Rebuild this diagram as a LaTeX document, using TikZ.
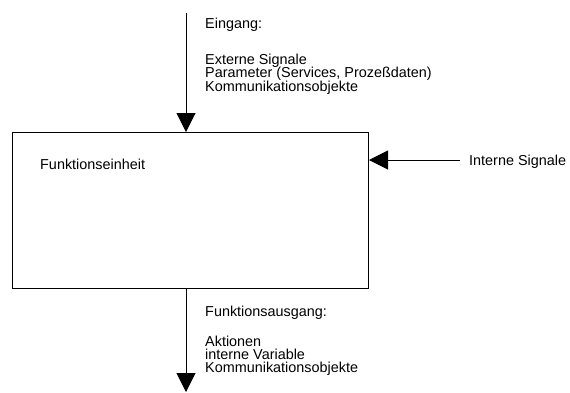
\documentclass[tikz,border=0pt]{standalone}
\usepackage{fontspec}
\setmainfont{Liberation Sans}
\usetikzlibrary{arrows.meta}
\begin{document}
\begin{tikzpicture}[x=1pt,y=-1pt,
  lbl/.style={anchor=base west,inner sep=0pt,font=\fontsize{14.4}{14}\selectfont},
  conn/.style={line width=1pt,-{Triangle[length=19pt,width=19pt]}},
  unit/.style={draw,line width=1pt,inner sep=0pt,minimum width=356pt,minimum height=156pt}]
\useasboundingbox (0,0) rectangle (570,392);
\node[unit,anchor=north west] (box) at (12,132) {};
\node[lbl] (fe) at (40,169) {Funktionseinheit};
% top input
\coordinate (instart) at (186,13);
\draw[conn] (instart) -- (instart |- box.north);
\node[lbl] (ein) at (205,28) {Eingang:};
\node[lbl] (e1) at (205,64) {Externe Signale};
\node[lbl] (e2) at (205,77.5) {Parameter (Services, Prozeßdaten)};
\node[lbl] (e3) at (205,91) {Kommunikationsobjekte};
% right input
\coordinate (rstart) at (460,160);
\draw[conn] (rstart) -- (rstart -| box.east);
\node[lbl] (is) at (469,165) {Interne Signale};
% bottom output
\coordinate (outend) at (186,392);
\draw[conn] (outend |- box.south) -- (outend);
\node[lbl] (aus) at (205,316) {Funktionsausgang:};
\node[lbl] (a1) at (205,346) {Aktionen};
\node[lbl] (a2) at (205,359) {interne Variable};
\node[lbl] (a3) at (205,372) {Kommunikationsobjekte};
\end{tikzpicture}
\end{document}
